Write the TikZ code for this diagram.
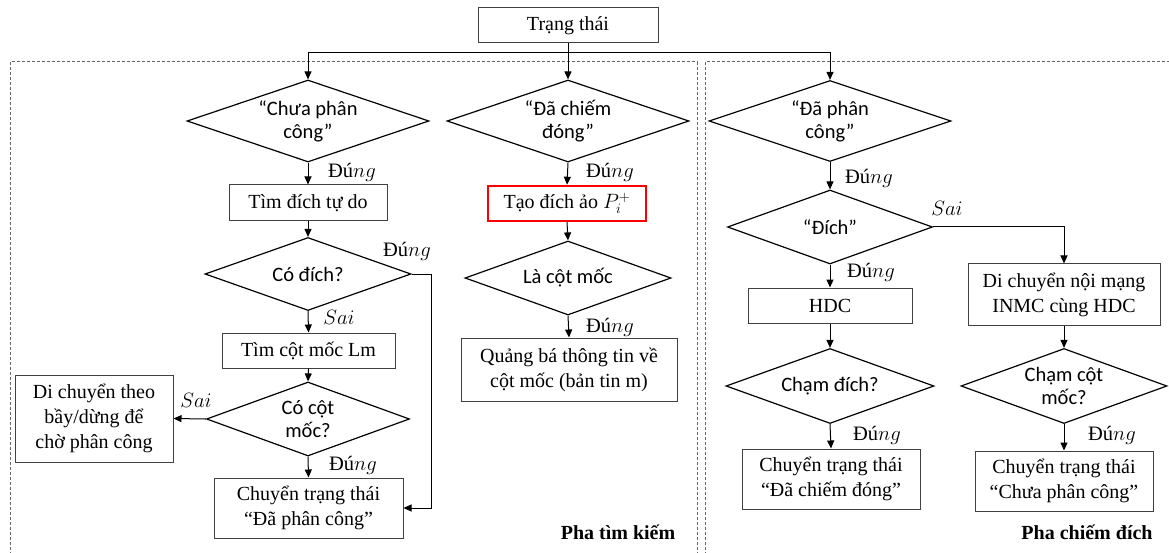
\documentclass[tikz,border=0pt]{standalone}
\usepackage{fontspec}
\setmainfont{Liberation Serif}
\newfontfamily\diafont{Carlito}
\usetikzlibrary{shapes.geometric,arrows.meta}
\begin{document}
\begin{tikzpicture}[x=1pt,y=-1pt,
  box/.style={draw=black!75, line width=1pt, rectangle, inner sep=0pt, align=center, font=\fontsize{20}{25}\selectfont},
  redbox/.style={box, draw=red, line width=2.5pt},
  dia/.style={draw=black, line width=1.2pt, diamond, inner sep=0pt},
  diatext/.style={align=center, inner sep=0pt, font=\diafont\fontsize{20.5}{23}\selectfont},
  lbl/.style={font=\fontsize{20.5}{24}\selectfont, inner sep=0pt},
  phase/.style={font=\bfseries\fontsize{20}{24}\selectfont, inner sep=0pt},
  arr/.style={line width=1pt, -{Triangle[length=8pt,width=7pt]}},
  ln/.style={line width=1pt},
  frame/.style={draw=black!60, line width=1pt, dash pattern=on 3pt off 2pt},
]
\useasboundingbox (0,0) rectangle (1169,553);
\fill[white] (0,0) rectangle (1169,553);

% dashed frames
\draw[frame] (10,560) -- (10,62) -- (697,62) -- (697,560);
\draw[frame] (705,560) -- (705,62) -- (1175,62);

% top
\node[box, minimum width=180pt, minimum height=35pt] (t) at (568,25.5) {Trạng thái};
\coordinate (hub) at (568,53);

% left column
\node[dia, minimum width=242pt, minimum height=82pt] (d1) at (308,121) {};
\node[diatext] (d1t) at (d1) {“Chưa phân\\công”};
\node[box, minimum width=158pt, minimum height=36pt] (b1) at (308,203) {Tìm đích tự do};
\node[dia, minimum width=206pt, minimum height=73pt] (d3) at (308,274) {};
\node[diatext] (d3t) at (d3) {Có đích?};
\node[box, minimum width=173pt, minimum height=35pt] (b2) at (308.5,350.5) {Tìm cột mốc Lm};
\node[dia, minimum width=203pt, minimum height=74pt] (d4) at (308,419) {};
\node[diatext] (d4t) at (d4) {Có cột\\mốc?};
\node[box, minimum width=158pt, minimum height=87pt] (b3) at (94,418.5) {Di chuyển theo\\bầy/dừng để\\chờ phân công};
\node[box, minimum width=189pt, minimum height=60pt] (b4) at (308.5,508) {Chuyển trạng thái\\“Đã phân công”};

% middle column
\node[dia, minimum width=242pt, minimum height=82pt] (d2) at (568,121) {};
\node[diatext] (d2t) at (d2) {“Đã chiếm\\đóng”};
\node[redbox, minimum width=158pt, minimum height=35pt] (b5) at (567,203.5) {Tạo đích ảo $P_i^+$};
\node[dia, minimum width=206pt, minimum height=74pt] (d5) at (568,278) {};
\node[diatext] (d5t) at (d5) {Là cột mốc};
\node[box, minimum width=216pt, minimum height=63pt] (b6) at (569,369.5) {Quảng bá thông tin về\\cột mốc (bản tin m)};

% right column
\node[dia, minimum width=242pt, minimum height=81pt] (d6) at (830,121) {};
\node[diatext] (d6t) at (d6) {“Đã phân\\công”};
\node[dia, minimum width=205pt, minimum height=74pt] (d7) at (830,227) {};
\node[diatext] (d7t) at (d7) {“Đích”};
\node[box, minimum width=164pt, minimum height=35pt] (b7) at (830,305.5) {HDC};
\node[box, minimum width=192pt, minimum height=61pt] (b8) at (1064,294.5) {Di chuyển nội mạng\\INMC cùng HDC};
\node[dia, minimum width=208pt, minimum height=75pt] (d8) at (830,386) {};
\node[diatext] (d8t) at (d8) {Chạm đích?};
\node[dia, minimum width=206pt, minimum height=75pt] (d9) at (1064,386) {};
\node[diatext] (d9t) at (d9) {Chạm cột\\mốc?};
\node[box, minimum width=178pt, minimum height=60pt] (b9) at (831,479) {Chuyển trạng thái\\“Đã chiếm đóng”};
\node[box, minimum width=178pt, minimum height=60pt] (b10) at (1064,481) {Chuyển trạng thái\\“Chưa phân công”};

% connectors
\draw[ln] (t.south) -- (hub);
\draw[arr] (hub) -| (d1.north);
\draw[arr] (hub) -- (d2.north);
\draw[arr] (hub) -| (d6.north);

\draw[arr] (d1.south) -- (b1.north);
\draw[arr] (b1.south) -- (d3.north);
\draw[arr] (d3.south) -- (b2.north);
\draw[arr] (b2.south) -- (d4.north);
\draw[arr] (d4.west) -- (b3.east);
\draw[arr] (d4.south) -- (b4.north);
\draw[arr] (d3.east) -- ++(20,0) |- (b4.east);

\draw[arr] (d2.south) -- (b5.north);
\draw[arr] (b5.south) -- (d5.north);
\draw[arr] (d5.south) -- (b6.north);

\draw[arr] (d6.south) -- (d7.north);
\draw[arr] (d7.south) -- (b7.north);
\draw[arr] (d7.east) -| (b8.north);
\draw[arr] (b7.south) -- (d8.north);
\draw[arr] (b8.south) -- (d9.north);
\draw[arr] (d8.south) -- (b9.north);
\draw[arr] (d9.south) -- (b10.north);

% labels
\node[lbl] (l1) at (352,172) {Đú$ng$};
\node[lbl] (l2) at (610,172) {Đú$ng$};
\node[lbl] (l3) at (407,251) {Đú$ng$};
\node[lbl] (l4) at (339,317) {$Sai$};
\node[lbl] (l5) at (196,400) {$Sai$};
\node[lbl] (l6) at (353,465) {Đú$ng$};
\node[lbl] (l7) at (610,327) {Đú$ng$};
\node[lbl] (l8) at (869,178) {Đú$ng$};
\node[lbl] (l9) at (947,208) {$Sai$};
\node[lbl] (l10) at (871,272) {Đú$ng$};
\node[lbl] (l11) at (877,435) {Đú$ng$};
\node[lbl] (l12) at (1112,435) {Đú$ng$};

\node[phase] (p1) at (618,532) {Pha tìm kiếm};
\node[phase] (p2) at (1087,532) {Pha chiếm đích};
\end{tikzpicture}
\end{document}
